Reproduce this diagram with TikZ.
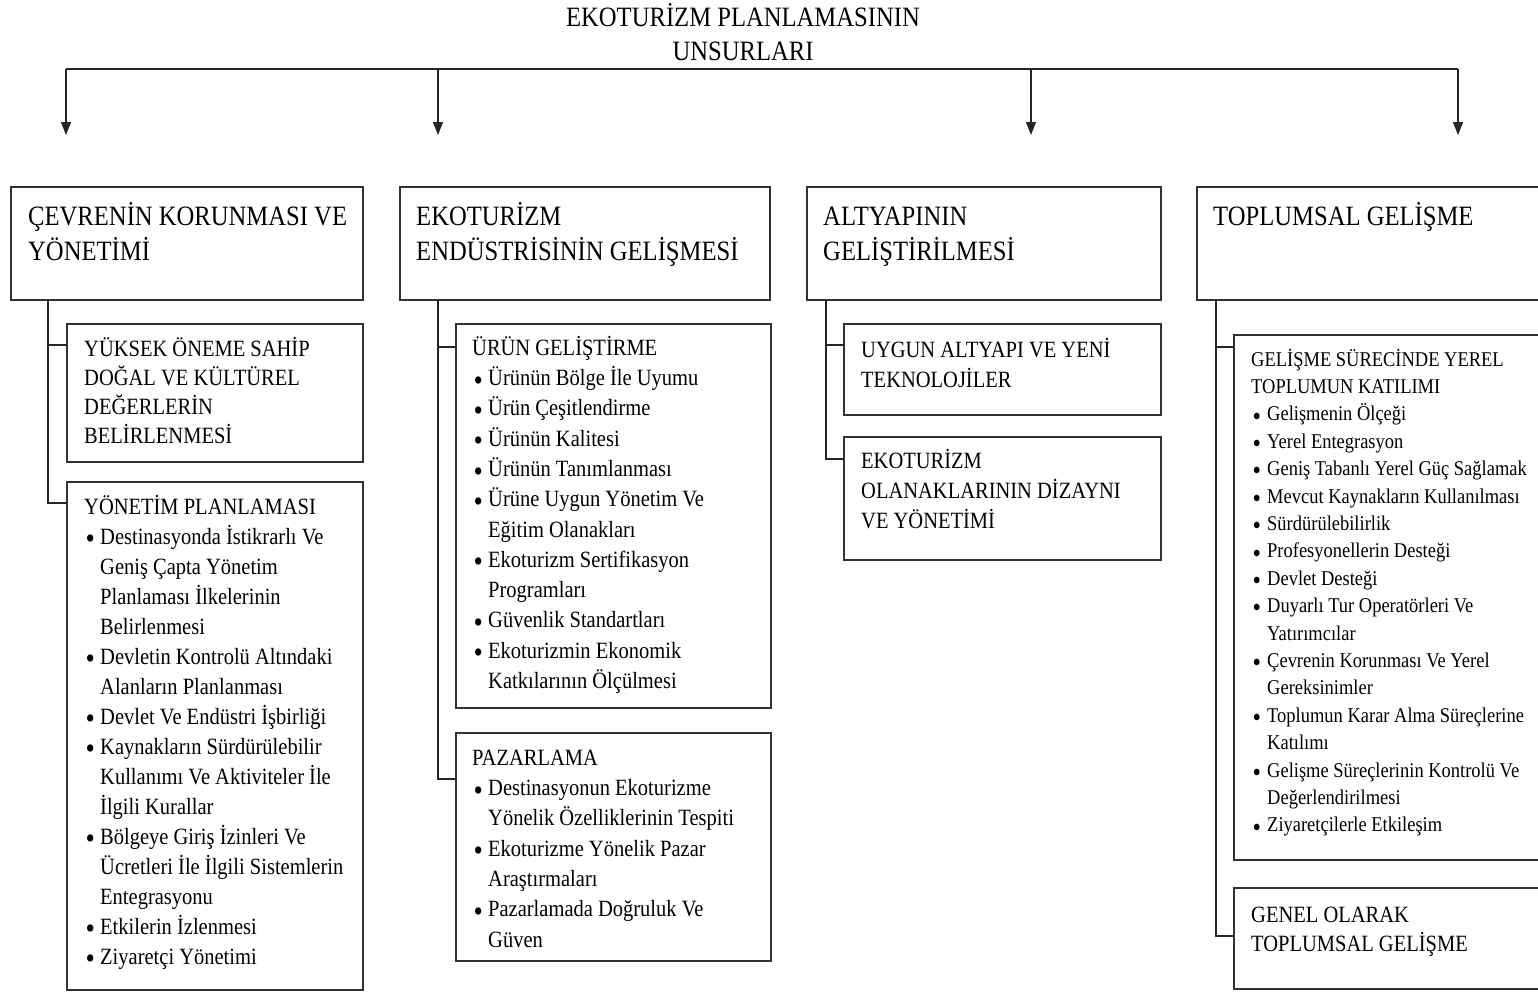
\documentclass[tikz,border=0pt]{standalone}
\usepackage{graphicx}
\usepackage{fontspec}
\setmainfont{Liberation Serif}[FakeStretch=0.88]
\usetikzlibrary{arrows.meta}
\newcommand\bi[1]{\hspace*{1.5pt}\makebox[14.5pt][l]{\raisebox{-0.2em}{\scalebox{1.3}{\textbullet}}}#1}
\newcommand\bc[1]{\hspace*{16pt}#1}
\begin{document}
\begin{tikzpicture}[x=1pt,y=-1pt,
  boxst/.style={draw=black!80,line width=1.4pt,inner sep=0pt,outer sep=0pt,anchor=north west},
  txtA/.style={anchor=north west,inner sep=0pt,align=left,font=\fontsize{28}{35}\selectfont},
  txtB/.style={anchor=north west,inner sep=0pt,align=left,font=\fontsize{23.3}{#1}\selectfont},
  txtC/.style={anchor=north west,inner sep=0pt,align=left,font=\fontsize{21}{27.4}\selectfont},
  conn/.style={draw=black!85,line width=1.3pt},
  arr/.style={conn,-{Triangle[length=13pt,width=10pt]}}
]
\useasboundingbox (0,0) rectangle (1538,994);
\clip (0,0) rectangle (1538,994);

% title
\node[anchor=north,inner sep=0pt,align=center,font=\fontsize{28}{34}\selectfont] (title) at (743,2.2)
  {\strut EKOTURİZM PLANLAMASININ\\UNSURLARI};

% top line and arrows
\coordinate (h1) at (66,69);
\coordinate (h2) at (438,69);
\coordinate (h3) at (1031,69);
\coordinate (h4) at (1458,69);
\coordinate (e1) at (66,135);
\coordinate (e2) at (438,135);
\coordinate (e3) at (1031,135);
\coordinate (e4) at (1458,135);
\draw[conn] (h1) -- (h4);
\draw[arr] (h1) -- (e1);
\draw[arr] (h2) -- (e2);
\draw[arr] (h3) -- (e3);
\draw[arr] (h4) -- (e4);

% top boxes
\node[boxst,minimum width=352,minimum height=113] (P1) at (11,187) {};
\node[boxst,minimum width=370,minimum height=113] (P2) at (400,187) {};
\node[boxst,minimum width=354,minimum height=113] (P3) at (807,187) {};
\node[boxst,minimum width=380,minimum height=113] (P4) at (1197,187) {};
\node[txtA] (tP1) at (28,200.5) {\strut ÇEVRENİN KORUNMASI VE\\YÖNETİMİ};
\node[txtA] (tP2) at (416,200.5) {\strut EKOTURİZM\\ENDÜSTRİSİNİN GELİŞMESİ};
\node[txtA] (tP3) at (823,200.5) {\strut ALTYAPININ\\GELİŞTİRİLMESİ};
\node[txtA] (tP4) at (1213,200.5) {\strut TOPLUMSAL GELİŞME};

% column 1
\node[boxst,minimum width=296,minimum height=138] (A1) at (67,324) {};
\node[boxst,minimum width=296,minimum height=508] (A2) at (67,482) {};
\node[txtB=29] (tA1) at (84,335.7) {\strut YÜKSEK ÖNEME SAHİP\\DOĞAL VE KÜLTÜREL\\DEĞERLERİN\\BELİRLENMESİ};
\node[txtB=30] (tA2) at (84,493) {\strut YÖNETİM PLANLAMASI\\
\bi{Destinasyonda İstikrarlı Ve}\\
\bc{Geniş Çapta Yönetim}\\
\bc{Planlaması İlkelerinin}\\
\bc{Belirlenmesi}\\
\bi{Devletin Kontrolü Altındaki}\\
\bc{Alanların Planlanması}\\
\bi{Devlet Ve Endüstri İşbirliği}\\
\bi{Kaynakların Sürdürülebilir}\\
\bc{Kullanımı Ve Aktiviteler İle}\\
\bc{İlgili Kurallar}\\
\bi{Bölgeye Giriş İzinleri Ve}\\
\bc{Ücretleri İle İlgili Sistemlerin}\\
\bc{Entegrasyonu}\\
\bi{Etkilerin İzlenmesi}\\
\bi{Ziyaretçi Yönetimi}};
\draw[conn] ([xshift=37pt]P1.south west) |- ([yshift=-21pt]A1.north west);
\draw[conn] ([xshift=37pt]P1.south west) |- ([yshift=-21pt]A2.north west);

% column 2
\node[boxst,minimum width=315,minimum height=384] (B1) at (456,324) {};
\node[boxst,minimum width=315,minimum height=228] (B2) at (456,733) {};
\node[txtB=30.3] (tB1) at (472,333.8) {\strut ÜRÜN GELİŞTİRME\\
\bi{Ürünün Bölge İle Uyumu}\\
\bi{Ürün Çeşitlendirme}\\
\bi{Ürünün Kalitesi}\\
\bi{Ürünün Tanımlanması}\\
\bi{Ürüne Uygun Yönetim Ve}\\
\bc{Eğitim Olanakları}\\
\bi{Ekoturizm Sertifikasyon}\\
\bc{Programları}\\
\bi{Güvenlik Standartları}\\
\bi{Ekoturizmin Ekonomik}\\
\bc{Katkılarının Ölçülmesi}};
\node[txtB=30.3] (tB2) at (472,743.8) {\strut PAZARLAMA\\
\bi{Destinasyonun Ekoturizme}\\
\bc{Yönelik Özelliklerinin Tespiti}\\
\bi{Ekoturizme Yönelik Pazar}\\
\bc{Araştırmaları}\\
\bi{Pazarlamada Doğruluk Ve}\\
\bc{Güven}};
\draw[conn] ([xshift=38pt]P2.south west) |- ([yshift=-23pt]B1.north west);
\draw[conn] ([xshift=38pt]P2.south west) |- ([yshift=-46pt]B2.north west);

% column 3
\node[boxst,minimum width=317,minimum height=91] (C1) at (844,324) {};
\node[boxst,minimum width=317,minimum height=123] (C2) at (844,437) {};
\node[txtB=30] (tC1) at (861,336) {\strut UYGUN ALTYAPI VE YENİ\\TEKNOLOJİLER};
\node[txtB=30] (tC2) at (861,447) {\strut EKOTURİZM\\OLANAKLARININ DİZAYNI\\VE YÖNETİMİ};
\draw[conn] ([xshift=19pt]P3.south west) |- ([yshift=-21pt]C1.north west);
\draw[conn] ([xshift=19pt]P3.south west) |- ([yshift=-22pt]C2.north west);

% column 4
\node[boxst,minimum width=340,minimum height=525] (D1) at (1234,335) {};
\node[boxst,minimum width=340,minimum height=101] (D2) at (1234,888) {};
\node[txtC] (tD1) at (1251,346.8) {\strut GELİŞME SÜRECİNDE YEREL\\
TOPLUMUN KATILIMI\\
\bi{Gelişmenin Ölçeği}\\
\bi{Yerel Entegrasyon}\\
\bi{Geniş Tabanlı Yerel Güç Sağlamak}\\
\bi{Mevcut Kaynakların Kullanılması}\\
\bi{Sürdürülebilirlik}\\
\bi{Profesyonellerin Desteği}\\
\bi{Devlet Desteği}\\
\bi{Duyarlı Tur Operatörleri Ve}\\
\bc{Yatırımcılar}\\
\bi{Çevrenin Korunması Ve Yerel}\\
\bc{Gereksinimler}\\
\bi{Toplumun Karar Alma Süreçlerine}\\
\bc{Katılımı}\\
\bi{Gelişme Süreçlerinin Kontrolü Ve}\\
\bc{Değerlendirilmesi}\\
\bi{Ziyaretçilerle Etkileşim}};
\node[txtB=29] (tD2) at (1251,901.7) {\strut GENEL OLARAK\\TOPLUMSAL GELİŞME};
\draw[conn] ([xshift=19pt]P4.south west) |- ([yshift=-12pt]D1.north west);
\draw[conn] ([xshift=19pt]P4.south west) |- ([yshift=-48pt]D2.north west);
\end{tikzpicture}
\end{document}
